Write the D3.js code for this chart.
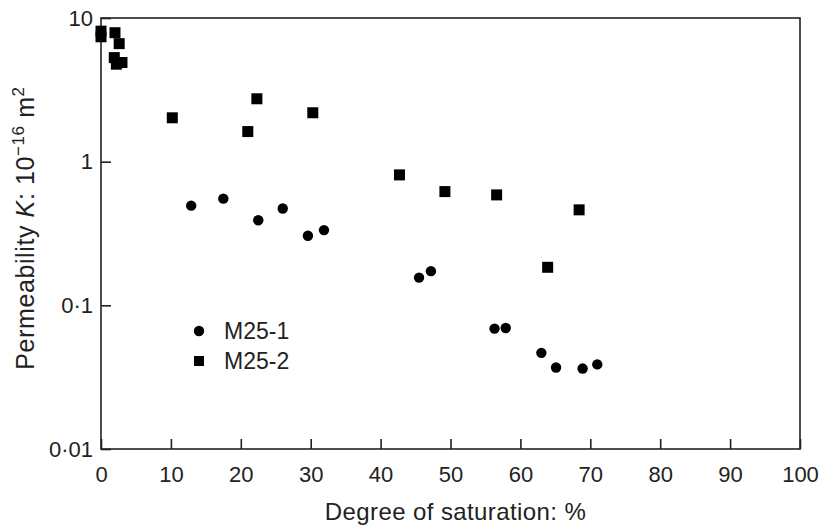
<!DOCTYPE html>
<html><head><meta charset="utf-8">
<script src="https://cdn.jsdelivr.net/npm/d3@7"></script>
<style>body{margin:0;background:#fff}text{font-family:"Liberation Sans",Arial,sans-serif;fill:#222}</style>
</head><body><svg id="c" width="821" height="526"></svg>
<script>
const xTicks=[0,10,20,30,40,50,60,70,80,90,100];
const yTicks=[0.01,0.1,1,10];
const yTickLabels=["0·01","0·1","1","10"];
const m1x=[12.9,17.5,22.5,26.0,29.6,31.9,45.5,47.2,56.3,57.9,63.0,65.1,68.9,71.0];
const m1k=[0.494,0.553,0.391,0.472,0.305,0.334,0.156,0.173,0.0689,0.0695,0.0467,0.0369,0.0363,0.0388];
const m2x=[0,0,2.0,2.6,1.9,2.2,3.0,10.2,22.3,21.0,30.3,42.7,49.2,56.6,68.4,63.9];
const m2k=[8.1,7.4,7.9,6.63,5.3,4.77,4.9,2.02,2.74,1.62,2.19,0.809,0.619,0.587,0.462,0.184];
const legend=["M25-1","M25-2"];

const svg=d3.select("#c");
const L=101,R=800,T=18,B=449;
const x=d3.scaleLinear().domain([0,100]).range([L,R]);
const y=d3.scaleLog().domain([0.01,10]).range([B,T]);

svg.append("rect").attr("x",L).attr("y",T).attr("width",R-L).attr("height",B-T)
  .attr("fill","none").attr("stroke","#222").attr("stroke-width",1.6);

const xa=svg.append("g").attr("transform",`translate(0,${B})`)
  .call(d3.axisBottom(x).tickValues(xTicks).tickSize(-10).tickPadding(17).tickFormat(d3.format("d")));
xa.select(".domain").remove();
xa.selectAll("line").attr("stroke","#222").attr("stroke-width",1.6);
xa.selectAll("text").attr("font-size",22).style("font-family","Liberation Sans, Arial, sans-serif").attr("fill","#222");

const ya=svg.append("g").attr("transform",`translate(${L},0)`)
  .call(d3.axisLeft(y).tickValues(yTicks).tickSize(-10).tickPadding(8).tickFormat((d,i)=>yTickLabels[i]));
ya.select(".domain").remove();
ya.selectAll("line").attr("stroke","#222").attr("stroke-width",1.6);
ya.selectAll("text").attr("font-size",22).style("font-family","Liberation Sans, Arial, sans-serif").attr("fill","#222");

svg.append("text").attr("x",(L+R)/2+5).attr("y",520).attr("text-anchor","middle").attr("font-size",24)
  .attr("letter-spacing",0.4).text("Degree of saturation: %");
const yl=svg.append("text").attr("transform","translate(34,228) rotate(-90)").attr("text-anchor","middle")
  .attr("font-size",25).attr("letter-spacing",0.6);
yl.append("tspan").text("Permeability ");
yl.append("tspan").attr("font-style","italic").text("K");
yl.append("tspan").text(": 10");
yl.append("tspan").attr("font-size",17).attr("dy",-10).text("−16");
yl.append("tspan").attr("dy",10).text(" m");
yl.append("tspan").attr("font-size",17).attr("dy",-10).text("2");

const d1=m1x.map((v,i)=>({x:v,k:m1k[i]}));
const d2=m2x.map((v,i)=>({x:v,k:m2k[i]}));
svg.append("g").selectAll("circle").data(d1).join("circle")
  .attr("cx",d=>x(d.x)).attr("cy",d=>y(d.k)).attr("r",5.2).attr("fill","#000");
const s=11;
svg.append("g").selectAll("rect").data(d2).join("rect")
  .attr("x",d=>x(d.x)-s/2).attr("y",d=>y(d.k)-s/2).attr("width",s).attr("height",s).attr("fill","#000");

const lg=svg.append("g");
lg.append("circle").attr("cx",199).attr("cy",331).attr("r",5.2).attr("fill","#000");
lg.append("rect").attr("x",194).attr("y",356).attr("width",10).attr("height",10).attr("fill","#000");
lg.append("text").attr("x",224).attr("y",339).attr("font-size",23).text(legend[0]);
lg.append("text").attr("x",224).attr("y",369).attr("font-size",23).text(legend[1]);
</script></body></html>
